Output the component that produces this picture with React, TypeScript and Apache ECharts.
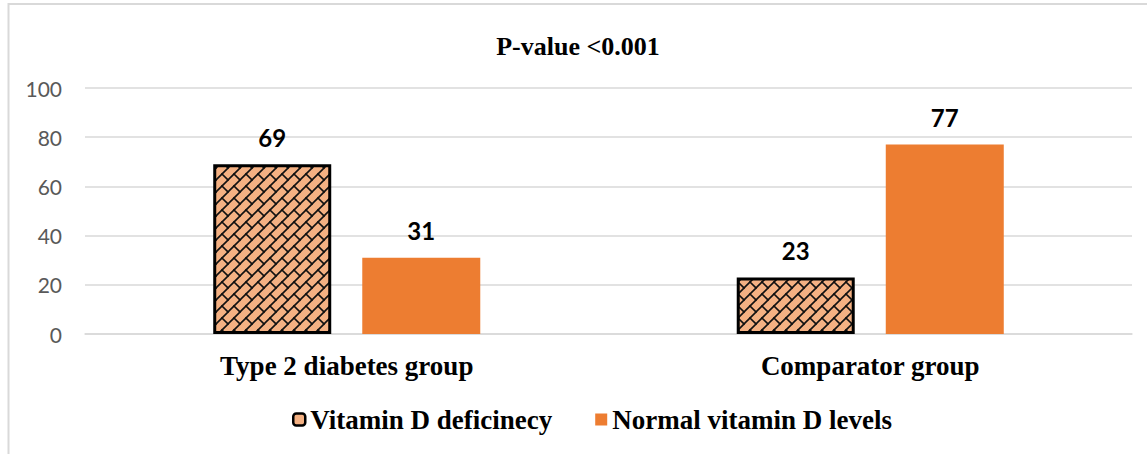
import React, { useEffect, useRef } from "react";
import * as echarts from "echarts";

const categories = ["Type 2 diabetes group", "Comparator group"];
const deficiency = [69, 23];
const normal = [31, 77];
const seriesNames = ["Vitamin D deficinecy", "Normal vitamin D levels"];
const titleText = "P-value <0.001";
const yTicks = { min: 0, max: 100, interval: 20 };

function makeBrickPattern() {
  const N = 12;
  const c = document.createElement("canvas");
  c.width = N;
  c.height = N;
  const ctx = c.getContext("2d")!;
  ctx.fillStyle = "#F4B183";
  ctx.fillRect(0, 0, N, N);
  ctx.strokeStyle = "#111";
  ctx.lineWidth = 1.6;
  ctx.lineCap = "square";
  const seg = (x1: number, y1: number, x2: number, y2: number) => {
    ctx.beginPath();
    ctx.moveTo(x1, y1);
    ctx.lineTo(x2, y2);
    ctx.stroke();
  };
  seg(-2, N + 2, N + 2, -2);
  seg(-2, 2, 2, -2);
  seg(N - 2, N + 2, N + 2, N - 2);
  seg(N / 2, N / 2, N + 1, N + 1);
  seg(-1, -1, 0, 0);
  return { canvas: c, size: N };
}

export default function App() {
  const ref = useRef<HTMLDivElement>(null);
  useEffect(() => {
    if (!ref.current) return;
    const chart = echarts.init(ref.current, null, { renderer: "svg" });
    const pat = makeBrickPattern();
    const patternColor: any = {
      image: pat.canvas,
      repeat: "repeat",
      imageWidth: pat.size,
      imageHeight: pat.size,
    };
    const serif = "'Liberation Serif', 'Times New Roman', serif";
    const sans = "Lato, 'Noto Sans', sans-serif";
    const labelStyle = {
      show: true,
      position: "top" as const,
      distance: 15,
      fontFamily: sans,
      fontWeight: "bold" as const,
      fontSize: 24,
      color: "#000",
    };
    chart.setOption({
      animation: false,
      backgroundColor: "#fff",
      title: {
        text: titleText,
        left: 578,
        top: 33,
        textAlign: "center",
        padding: 0,
        textStyle: { fontFamily: serif, fontWeight: "bold", fontSize: 26, color: "#000" },
      },
      graphic: [
        {
          type: "rect",
          shape: { x: 8.5, y: 4, width: 1200, height: 500 },
          style: { fill: "none", stroke: "#D9D9D9", lineWidth: 2 },
          silent: true,
          z: -1,
        },
      ],
      legend: {
        left: 292,
        top: 406,
        padding: 0,
        itemGap: 43,
        itemWidth: 12,
        itemHeight: 12,
        textStyle: { fontFamily: serif, fontWeight: "bold", fontSize: 27, color: "#000" },
        data: [
          {
            name: seriesNames[0],
            icon: "roundRect",
            itemStyle: { color: "#F4B183", borderColor: "#000", borderWidth: 2.5 },
          },
          { name: seriesNames[1], icon: "rect", itemStyle: { color: "#ED7D31", borderWidth: 0 } },
        ],
      },
      grid: { left: 85, right: 15, top: 88, bottom: 120, containLabel: false },
      xAxis: {
        type: "category",
        data: categories,
        axisLine: { show: true, lineStyle: { color: "#D9D9D9", width: 1.5 } },
        axisTick: { show: false },
        axisLabel: {
          margin: 18,
          fontFamily: serif,
          fontWeight: "bold",
          fontSize: 27,
          color: "#000",
        },
      },
      yAxis: {
        type: "value",
        min: yTicks.min,
        max: yTicks.max,
        interval: yTicks.interval,
        axisLine: { show: false },
        axisTick: { show: false },
        splitLine: { lineStyle: { color: "#D9D9D9", width: 1.5 } },
        axisLabel: { margin: 23, fontFamily: sans, fontSize: 21, color: "#595959" },
      },
      series: [
        {
          name: seriesNames[0],
          type: "bar",
          data: deficiency,
          barWidth: 118,
          barGap: "26.3%",
          itemStyle: { color: patternColor, borderColor: "#000", borderWidth: 3 },
          label: labelStyle,
        },
        {
          name: seriesNames[1],
          type: "bar",
          data: normal,
          barWidth: 118,
          itemStyle: { color: "#ED7D31" },
          label: labelStyle,
        },
      ],
    });
    return () => chart.dispose();
  }, []);
  return (
    <div
      ref={ref}
      style={{ position: "absolute", left: 0, top: 0, width: 1147, height: 454 }}
    />
  );
}
